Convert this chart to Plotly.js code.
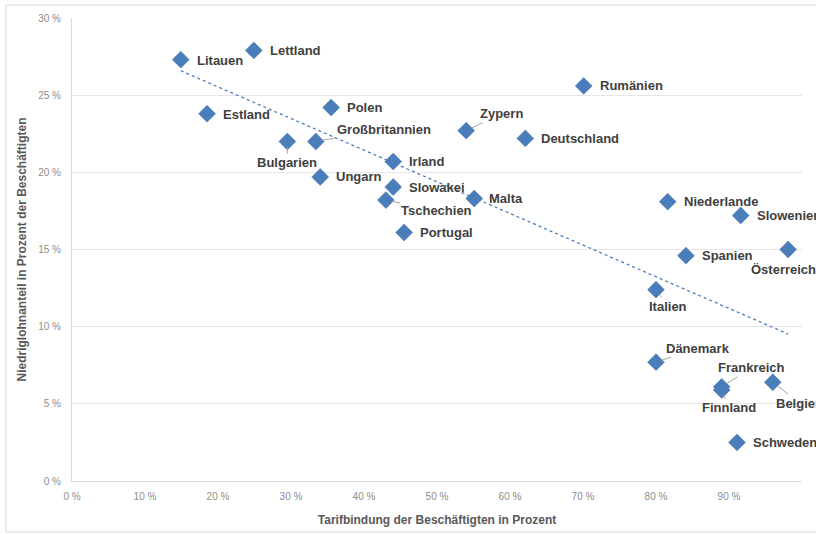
<!DOCTYPE html>
<html><head><meta charset="utf-8">
<script src="https://cdn.plot.ly/plotly-3.0.1.min.js"></script>
<style>html,body{margin:0;padding:0;background:#fff}#chart{width:816px;height:534px}</style>
</head><body><div id="chart"></div>
<script>
// Data (percent)
const countries = ["Litauen","Lettland","Estland","Bulgarien","Großbritannien","Polen","Ungarn","Irland","Slowakei","Tschechien","Portugal","Malta","Zypern","Deutschland","Rumänien","Niederlande","Slowenien","Spanien","Österreich","Italien","Dänemark","Frankreich","Finnland","Belgien","Schweden"];
const tarifbindung = [14.9,24.9,18.5,29.5,33.4,35.5,34.0,44.0,44.0,43.0,45.5,55.1,54.0,62.1,70.1,81.6,91.6,84.1,98.1,80.0,80.0,89.0,89.0,96.0,91.1];
const niedriglohn = [27.3,27.9,23.8,22.0,22.0,24.2,19.7,20.7,19.05,18.2,16.1,18.3,22.7,22.2,25.6,18.1,17.2,14.6,15.0,12.4,7.7,6.1,5.9,6.4,2.5];
const xTicks = [0,10,20,30,40,50,60,70,80,90,100];
const yTicks = [0,5,10,15,20,25,30];

// Label placement (layout, pixels): [dx, dy, leader]
const labelPos = {
  "Litauen":[14,1,false],"Lettland":[14,0,false],"Estland":[14,1,false],
  "Bulgarien":[0,21,true],"Großbritannien":[68,-12,true],"Polen":[14,0,false],
  "Ungarn":[14,0,false],"Irland":[14,0,false],"Slowakei":[14,0,false],
  "Tschechien":[51,10,true],"Portugal":[14,0,false],"Malta":[13,0,false],
  "Zypern":[35,-17,true],"Deutschland":[14,0,false],"Rumänien":[14,0,false],
  "Niederlande":[14,0,false],"Slowenien":[14,0,false],"Spanien":[14,0,false],
  "Österreich":[-5,20,true],"Italien":[12,17,true],"Dänemark":[42,-14,true],
  "Frankreich":[30,-19,true],"Finnland":[7,18,true],"Belgien":[27,21,true],
  "Schweden":[14,0,false]
};

// Linear trendline (least squares) from the data
const n = tarifbindung.length;
let sx=0, sy=0, sxx=0, sxy=0;
for (let i=0;i<n;i++){sx+=tarifbindung[i];sy+=niedriglohn[i];sxx+=tarifbindung[i]*tarifbindung[i];sxy+=tarifbindung[i]*niedriglohn[i];}
const slope = (n*sxy - sx*sy)/(n*sxx - sx*sx);
const intercept = (sy - slope*sx)/n;
const xmin = Math.min(...tarifbindung), xmax = Math.max(...tarifbindung);

const labelFont = {family:"Liberation Sans, Arial, sans-serif", size:13, color:"#404040", weight:"bold"};
const annotations = countries.map((c,i)=>{
  const p = labelPos[c];
  if (p[2]) {
    return {x:tarifbindung[i], y:niedriglohn[i], xref:"x", yref:"y", text:"<b>"+c+"</b>",
      showarrow:true, ax:p[0], ay:p[1], arrowhead:0, arrowwidth:1, arrowcolor:"#a6a6a6",
      standoff:6, font:labelFont};
  }
  return {x:tarifbindung[i], y:niedriglohn[i], xref:"x", yref:"y", text:"<b>"+c+"</b>",
    showarrow:false, xanchor:"left", yanchor:"middle", xshift:p[0], yshift:-p[1], font:labelFont};
});

const traces = [
  {x:[xmin,xmax], y:[intercept+slope*xmin, intercept+slope*xmax], mode:"lines", type:"scatter",
   line:{color:"#4a7ebb", width:1.3, dash:"dot"}, hoverinfo:"skip", showlegend:false},
  {x:tarifbindung, y:niedriglohn, text:countries, mode:"markers", type:"scatter",
   marker:{symbol:"diamond", size:13, color:"#4a7ebb", line:{color:"#3e6ea8", width:0.5}}, showlegend:false}
];

const tickFont = {family:"Liberation Sans, Arial, sans-serif", size:10, color:"#8c8c8c"};
const titleFont = {family:"Liberation Sans, Arial, sans-serif", size:12, color:"#595959", weight:"bold"};

const layout = {
  width:816, height:534,
  margin:{l:72, r:14, t:18, b:53},
  paper_bgcolor:"#fff", plot_bgcolor:"#fff",
  showlegend:false,
  xaxis:{range:[0,100], tickvals:xTicks, ticktext:xTicks.map(v=>v+" %"), showgrid:false,
    zeroline:false, showline:true, linecolor:"#d9d9d9", linewidth:1, ticks:"", tickfont:tickFont,
    ticklabelstandoff:6,
    title:{text:"<b>Tarifbindung der Beschäftigten in Prozent</b>", font:titleFont, standoff:14}},
  yaxis:{range:[0,30], tickvals:yTicks, ticktext:yTicks.map(v=>v+" %"), showgrid:true, gridcolor:"#e6e6e6",
    zeroline:false, showline:true, linecolor:"#d9d9d9", linewidth:1, ticks:"", tickfont:tickFont,
    ticklabelstandoff:8,
    title:{text:"<b>Niedriglohnanteil in Prozent der Beschäftigten</b>", font:titleFont, standoff:9}},
  annotations:annotations,
  shapes:[{type:"rect", xref:"paper", yref:"paper", x0:-0.0904, x1:1.03, y0:-0.110, y1:1.028,
    line:{color:"#d9d9d9", width:1}, fillcolor:"rgba(0,0,0,0)", layer:"below"}]
};

Plotly.newPlot("chart", traces, layout, {displayModeBar:false, staticPlot:true});
</script></body></html>
